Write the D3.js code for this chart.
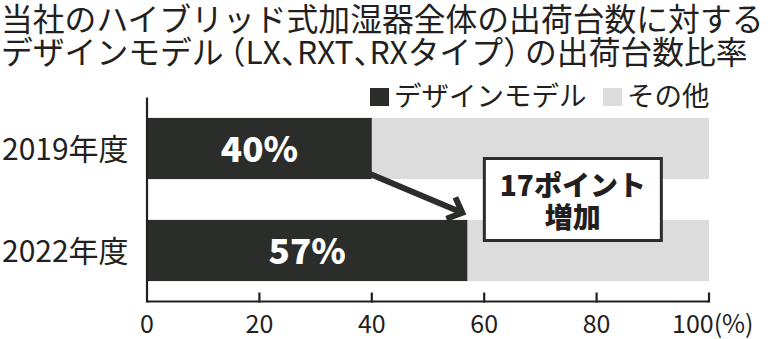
<!DOCTYPE html>
<html>
<head>
<meta charset="utf-8">
<script src="https://cdn.jsdelivr.net/npm/d3@7"></script>
<style>
  body { margin: 0; background: #fff; }
  svg { display: block; font-family: "Noto Sans CJK JP", "Noto Sans", sans-serif; }
  .half { font-feature-settings: "halt" 1; }
</style>
</head>
<body>
<svg id="chart" width="784" height="339"></svg>
<script>
var titleLines = ["当社のハイブリッド式加湿器全体の出荷台数に対する",
                  "デザインモデル（LX、RXT、RXタイプ）の出荷台数比率"];
var years = ["2019年度", "2022年度"];
var designShare = [40, 57];
var otherShare = [60, 43];
var seriesNames = ["デザインモデル", "その他"];
var xTicks = [0, 20, 40, 60, 80, 100];
var note = ["17ポイント", "増加"];

var DARK = "#2a2d2a", GREY = "#dcdcdc", INK = "#231f20";

var svg = d3.select("#chart"),
    MARGINS = { top: 97.5, bottom: 37.5, left: 147, right: 75 },
    WIDTH = 784, HEIGHT = 339;

var xScale = d3.scaleLinear().domain([0, 100]).range([MARGINS.left, WIDTH - MARGINS.right]),
    yScale = d3.scaleBand().domain(years).range([MARGINS.top, HEIGHT - MARGINS.bottom])
      .paddingInner(0.4).paddingOuter(0.2),
    bw = yScale.bandwidth();

// title (punctuation set half width like the print version)
var tl = svg.append("g").selectAll("text").data(titleLines).enter().append("text")
  .attr("x", 1).attr("y", function(d, i) { return 31 + i * 33; })
  .attr("font-size", 31.8).attr("fill", INK);
tl.each(function(d) {
  var t = d3.select(this);
  d.split(/([（）、])/).filter(function(s) { return s.length; }).forEach(function(s, k, arr) {
    var sp = t.append("tspan").attr("class", /^[（）、]$/.test(s) ? "half" : null).text(s);
    if (s === "（") sp.attr("dx", 6);
    if (k > 0 && arr[k - 1] === "）") sp.attr("dx", 6);
  });
});

// bars
var rows = years.map(function(y, i) { return { year: y, a: designShare[i], b: otherShare[i] }; });
var g = svg.append("g");
g.selectAll("rect.other").data(rows).enter().append("rect")
  .attr("x", function(d) { return xScale(d.a); })
  .attr("y", function(d) { return yScale(d.year); })
  .attr("width", function(d) { return xScale(d.a + d.b) - xScale(d.a); })
  .attr("height", bw).attr("fill", GREY);
g.selectAll("rect.design").data(rows).enter().append("rect")
  .attr("x", xScale(0))
  .attr("y", function(d) { return yScale(d.year); })
  .attr("width", function(d) { return xScale(d.a) - xScale(0); })
  .attr("height", bw).attr("fill", DARK);
g.selectAll("text.pct").data(rows).enter().append("text")
  .attr("x", function(d) { return (xScale(0) + xScale(d.a)) / 2; })
  .attr("y", function(d) { return yScale(d.year) + bw / 2 + 13; })
  .attr("text-anchor", "middle").attr("fill", "#fff")
  .attr("font-size", 35).attr("font-weight", 900)
  .text(function(d) { return d.a + "%"; });

// category labels
svg.append("g").selectAll("text").data(years).enter().append("text")
  .attr("x", 2).attr("y", function(d) { return yScale(d) + bw / 2 + 11; })
  .attr("font-size", 30).attr("fill", INK)
  .text(function(d) { return d; });

// axes
var ax = svg.append("g").attr("transform", "translate(0," + (HEIGHT - MARGINS.bottom) + ")");
ax.append("line").attr("x1", xScale(0)).attr("x2", xScale(100))
  .attr("stroke", INK).attr("stroke-width", 2.2);
ax.selectAll("line.tick").data(xTicks.slice(1)).enter().append("line")
  .attr("x1", function(d) { return xScale(d); }).attr("x2", function(d) { return xScale(d); })
  .attr("y1", -9).attr("y2", 1).attr("stroke", INK).attr("stroke-width", 2.2);
ax.selectAll("text").data(xTicks).enter().append("text")
  .attr("x", function(d, i) { return i === xTicks.length - 1 ? xScale(d) - 37 : xScale(d); })
  .attr("y", 31)
  .attr("text-anchor", function(d, i) { return i === xTicks.length - 1 ? "start" : "middle"; })
  .attr("font-size", 25).attr("fill", INK)
  .text(function(d, i) { return i === xTicks.length - 1 ? d + "(%)" : d; });
svg.append("line")
  .attr("x1", xScale(0)).attr("x2", xScale(0))
  .attr("y1", MARGINS.top).attr("y2", HEIGHT - MARGINS.bottom + 1)
  .attr("stroke", INK).attr("stroke-width", 2.2);

// legend
var legend = svg.append("g");
var legX = [370, 603];
legend.selectAll("rect").data(seriesNames).enter().append("rect")
  .attr("x", function(d, i) { return legX[i]; }).attr("y", 88)
  .attr("width", 19).attr("height", 18)
  .attr("fill", function(d, i) { return i ? GREY : DARK; });
legend.selectAll("text").data(seriesNames).enter().append("text")
  .attr("x", function(d, i) { return legX[i] + 24; }).attr("y", 106)
  .attr("font-size", 27.5).attr("fill", INK)
  .text(function(d) { return d; });

// arrow
var x0 = xScale(designShare[0]) - 4, y0 = yScale(years[0]) + bw - 6,
    x1 = xScale(designShare[1]) - 5, y1 = yScale(years[1]) - 7;
var ang = Math.atan2(y1 - y0, x1 - x0);
svg.append("line").attr("x1", x0).attr("y1", y0).attr("x2", x1 - 4 * Math.cos(ang)).attr("y2", y1 - 4 * Math.sin(ang))
  .attr("stroke", DARK).attr("stroke-width", 6);
var hl = 17, spread = 0.75;
svg.append("path")
  .attr("d", d3.line()([
    [x1 - hl * Math.cos(ang - spread), y1 - hl * Math.sin(ang - spread)],
    [x1, y1],
    [x1 - hl * Math.cos(ang + spread), y1 - hl * Math.sin(ang + spread)]
  ]))
  .attr("fill", "none").attr("stroke", DARK).attr("stroke-width", 6)
  .attr("stroke-linejoin", "miter");

// note box
var bx = xScale(designShare[1]) + 17, by = 158.5, bwid = 177, bht = 82;
svg.append("rect").attr("x", bx).attr("y", by).attr("width", bwid).attr("height", bht)
  .attr("fill", "#fff").attr("stroke", DARK).attr("stroke-width", 3);
svg.append("g").selectAll("text").data(note).enter().append("text")
  .attr("x", bx + bwid / 2).attr("y", function(d, i) { return by + 37 + i * 32; })
  .attr("text-anchor", "middle").attr("font-size", 28).attr("font-weight", 900)
  .attr("fill", INK)
  .text(function(d) { return d; });
</script>
</body>
</html>
